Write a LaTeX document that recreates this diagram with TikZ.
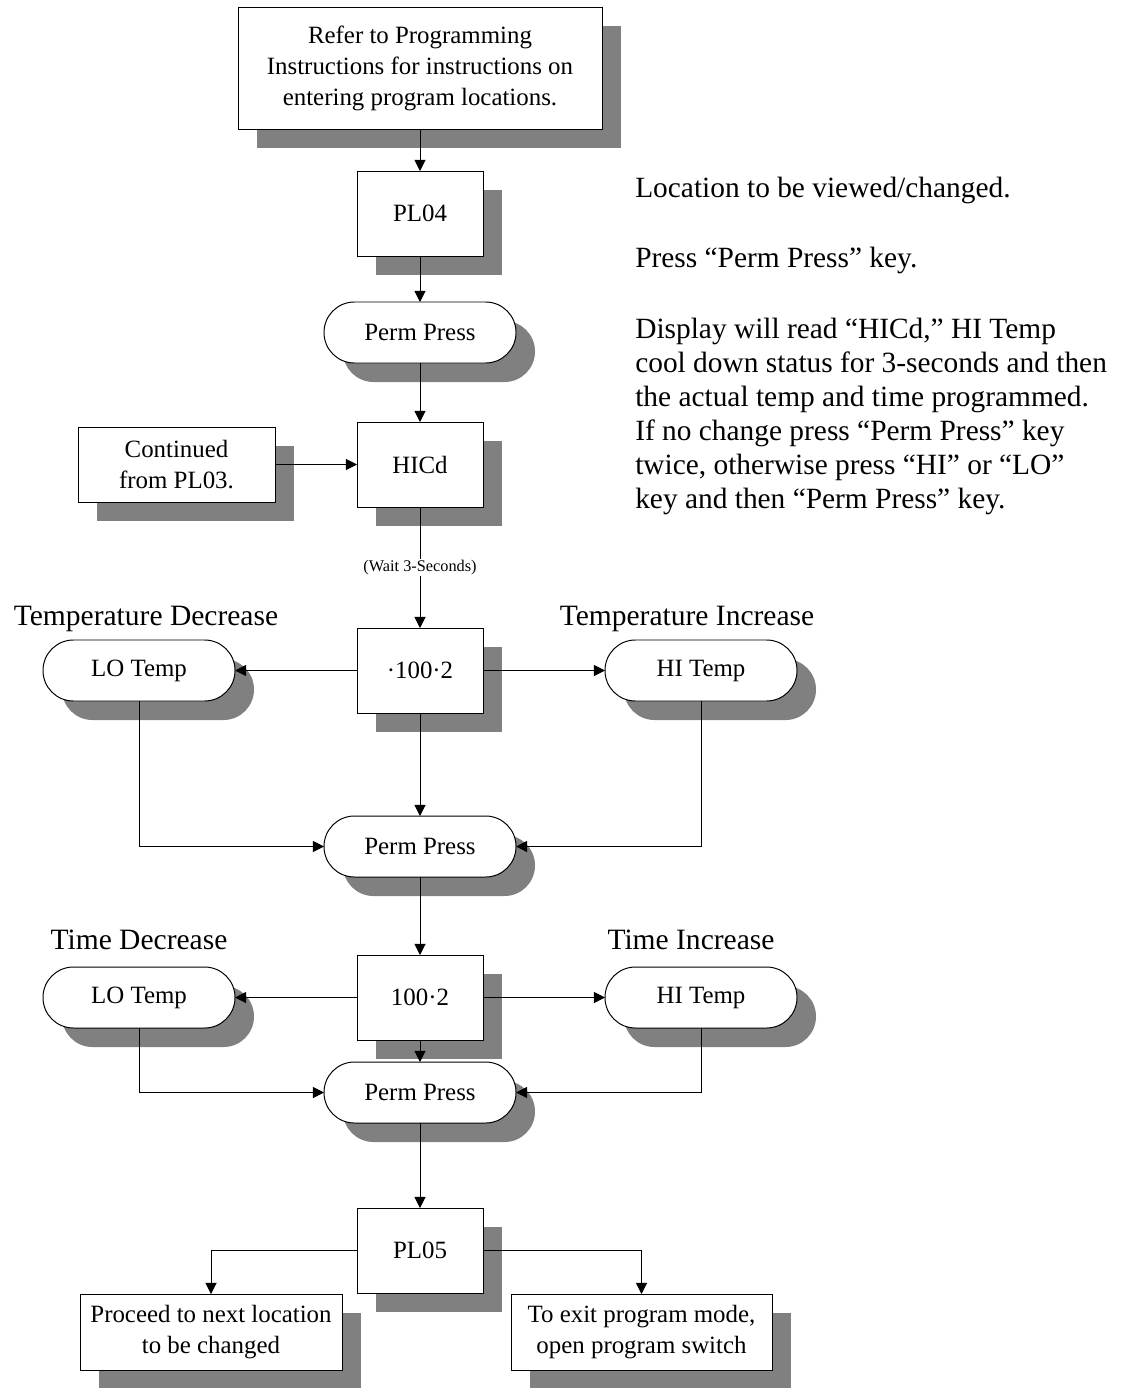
\documentclass[tikz,border=0pt]{standalone}
\usepackage{fontspec}
\setmainfont{Liberation Serif}
\usepackage{tikz}
\usetikzlibrary{positioning,arrows.meta,shadows}
\definecolor{shadowgrey}{HTML}{808080}
\tikzset{
  shd/.style={drop shadow={shadow xshift=4.75mm, shadow yshift=-4.75mm,
              fill=shadowgrey, opacity=1}},
  blk/.style={rectangle, draw=black, fill=white, line width=0.7pt, align=center,
              font=\fontsize{17.7}{22}\selectfont, inner sep=2pt, outer sep=0pt, shd},
  sq/.style={blk, minimum width=31.5mm, minimum height=21.25mm},
  pill/.style={rectangle, rounded corners=7.6mm, draw=black, fill=white, line width=0.7pt,
               font=\fontsize{17.7}{22}\selectfont, minimum width=48mm,
               minimum height=15.25mm, outer sep=0pt, shd},
  ar/.style={-{Triangle[length=2.8mm,width=2.8mm]}, line width=0.7pt, draw=black},
  lbl/.style={font=\fontsize{11.6}{14}\selectfont, fill=white, inner sep=1pt},
  hdr/.style={font=\fontsize{21}{25}\selectfont, inner sep=0pt},
  note/.style={font=\fontsize{20.9}{24.2}\selectfont, align=left, anchor=north west,
               inner sep=0pt},
}

\begin{document}
\begin{tikzpicture}
  \useasboundingbox (0,0) rectangle (281.25mm,-347mm);

  \node[blk, minimum width=91mm, minimum height=30.5mm] (intro) at (105mm,-17mm)
       {Refer to Programming\\Instructions for instructions on\\entering program locations.};
  \node[sq, below=10.5mm of intro] (pl04) {PL04};
  \node[pill, below=11.5mm of pl04] (pp1) {Perm Press};
  \node[sq, below=14.75mm of pp1] (hicd) {HICd};
  \node[blk, left=20.5mm of hicd, minimum width=49.25mm, minimum height=18.75mm] (cont)
       {Continued\\from PL03.};

  \node[sq, below=30.25mm of hicd] (tmp) {·100·2};
  \node[pill, left=30.5mm of tmp] (lotmp) {LO Temp};
  \node[pill, right=30.5mm of tmp] (hitmp) {HI Temp};
  \node[pill, below=25.75mm of tmp] (pp2) {Perm Press};

  \node[sq, below=19.5mm of pp2] (tim) {100·2};
  \node[pill, left=30.5mm of tim] (lotim) {LO Temp};
  \node[pill, right=30.5mm of tim] (hitim) {HI Temp};
  \node[pill, below=5.5mm of tim] (pp3) {Perm Press};

  \node[sq, below=21.25mm of pp3] (pl05) {PL05};
  \node[blk, below left=0.25mm and 3.75mm of pl05.south west, minimum width=65.5mm,
        minimum height=19mm] (nextloc) {Proceed to next location\\to be changed};
  \node[blk, below right=0.25mm and 7mm of pl05.south east, minimum width=65.25mm,
        minimum height=19mm] (quit) {To exit program mode,\\open program switch};

  % headings over the side keys
  \node[hdr] (tdec) at (36.5mm,-154.75mm) {Temperature Decrease};
  \node[hdr] (tinc) at (171.75mm,-154.75mm) {Temperature Increase};
  \node[hdr] (mdec) at (34.75mm,-235mm) {Time Decrease};
  \node[hdr] (minc) at (172.75mm,-235mm) {Time Increase};

  % notes on the right
  \node[note] (n1) at (158.75mm,-44.2mm) {Location to be viewed/changed.};
  \node[note] (n2) at (158.75mm,-61.8mm) {Press “Perm Press” key.};
  \node[note] (n3) at (158.75mm,-79.5mm)
       {Display will read “HICd,” HI Temp\\cool down status for 3-seconds and then\\the actual temp and time programmed.\\If no change press “Perm Press” key\\twice, otherwise press “HI” or “LO”\\key and then “Perm Press” key.};

  \draw[ar] (intro) -- (pl04);
  \draw[ar] (pl04) -- (pp1);
  \draw[ar] (pp1) -- (hicd);
  \draw[ar] (cont) -- (hicd);
  \draw[ar] (hicd) -- node[lbl]{(Wait 3-Seconds)} (tmp);
  \draw[ar] (tmp) -- (lotmp);
  \draw[ar] (tmp) -- (hitmp);
  \draw[ar] (tmp) -- (pp2);
  \draw[ar] (lotmp) |- (pp2);
  \draw[ar] (hitmp) |- (pp2);
  \draw[ar] (pp2) -- (tim);
  \draw[ar] (tim) -- (lotim);
  \draw[ar] (tim) -- (hitim);
  \draw[ar] (tim) -- (pp3);
  \draw[ar] (lotim) |- (pp3);
  \draw[ar] (hitim) |- (pp3);
  \draw[ar] (pp3) -- (pl05);
  \draw[ar] (pl05) -| (nextloc);
  \draw[ar] (pl05) -| (quit);
\end{tikzpicture}
\end{document}
